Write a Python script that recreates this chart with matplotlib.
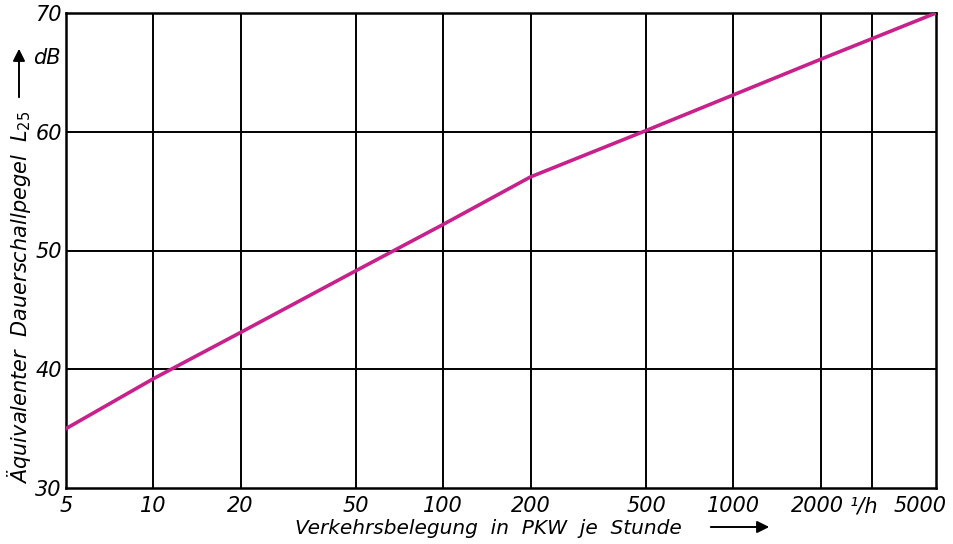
import matplotlib
matplotlib.use("Agg")
import matplotlib.pyplot as plt
import matplotlib.transforms as mtransforms

# data
traffic = [5, 10, 20, 50, 100, 200, 500, 1000, 2000, 5000]
level_db = [35.0, 39.2, 43.1, 48.3, 52.2, 56.2, 60.1, 63.1, 66.1, 70.0]

x_ticks = [5, 10, 20, 50, 100, 200, 500, 1000, 2000, 3000, 5000]
x_tick_labels = ["5", "10", "20", "50", "100", "200", "500", "1000", "2000", "¹/h", "5000"]
y_ticks = [30, 40, 50, 60, 70]
y_tick_labels = ["30", "40", "50", "60", "70"]

W, H = 954, 544
fig = plt.figure(figsize=(W / 100, H / 100), dpi=100)
ax = fig.add_axes([66 / W, (H - 488) / H, (936 - 66) / W, (488 - 13) / H])

ax.set_xscale("log")
ax.set_xlim(5, 5000)
ax.set_ylim(30, 70)

for xv in x_ticks[1:-1]:
    ax.axvline(xv, color="black", lw=1.4, zorder=1)
for yv in y_ticks[1:-1]:
    ax.axhline(yv, color="black", lw=1.4, zorder=1)

ax.plot(traffic, level_db, color="#C8218C", lw=2.6, zorder=3, solid_capstyle="round")

for s in ax.spines.values():
    s.set_linewidth(1.8)
    s.set_color("black")

ax.xaxis.set_minor_locator(matplotlib.ticker.NullLocator())
ax.set_xticks(x_ticks)
ax.set_xticklabels(x_tick_labels)
ax.set_yticks(y_ticks)
ax.set_yticklabels(y_tick_labels)
ax.tick_params(axis="both", length=0, labelsize=15)
ax.tick_params(axis="x", pad=6)
ax.tick_params(axis="y", pad=3)
for lab in ax.get_xticklabels() + ax.get_yticklabels():
    lab.set_fontstyle("italic")

# keep the last x label inside the figure, as in the reference
xl = ax.get_xticklabels()
xl[-1].set_horizontalalignment("right")
xl[-1].set_transform(xl[-1].get_transform() +
                     mtransforms.ScaledTranslation(11 / 100, 0, fig.dpi_scale_trans))
xl[-2].set_transform(xl[-2].get_transform() +
                     mtransforms.ScaledTranslation(-8 / 100, 0, fig.dpi_scale_trans))
xl[-3].set_transform(xl[-3].get_transform() +
                     mtransforms.ScaledTranslation(-3 / 100, 0, fig.dpi_scale_trans))

# x-axis label with arrow
fig.text(295 / W, (H - 529) / H, "Verkehrsbelegung  in  PKW  je  Stunde",
         fontsize=14.5, fontstyle="italic", ha="left", va="center")
fig.patches.append(matplotlib.patches.FancyArrowPatch(
    (708 / W, (H - 527) / H), (772 / W, (H - 527) / H),
    transform=fig.transFigure, arrowstyle="-|>", mutation_scale=18,
    color="black", lw=1.4))

# y-axis label with arrow and unit
fig.text(19 / W, (H - 297) / H, "Äquivalenter  Dauerschallpegel  $L_{25}$",
         fontsize=15, fontstyle="italic", rotation=90, ha="center", va="center")
fig.patches.append(matplotlib.patches.FancyArrowPatch(
    (19 / W, (H - 100) / H), (19 / W, (H - 46) / H),
    transform=fig.transFigure, arrowstyle="-|>", mutation_scale=18,
    color="black", lw=1.4))
fig.text(33 / W, (H - 58) / H, "dB", fontsize=15, fontstyle="italic",
         ha="left", va="center")

fig.savefig("out.png", dpi=100, facecolor="white")
